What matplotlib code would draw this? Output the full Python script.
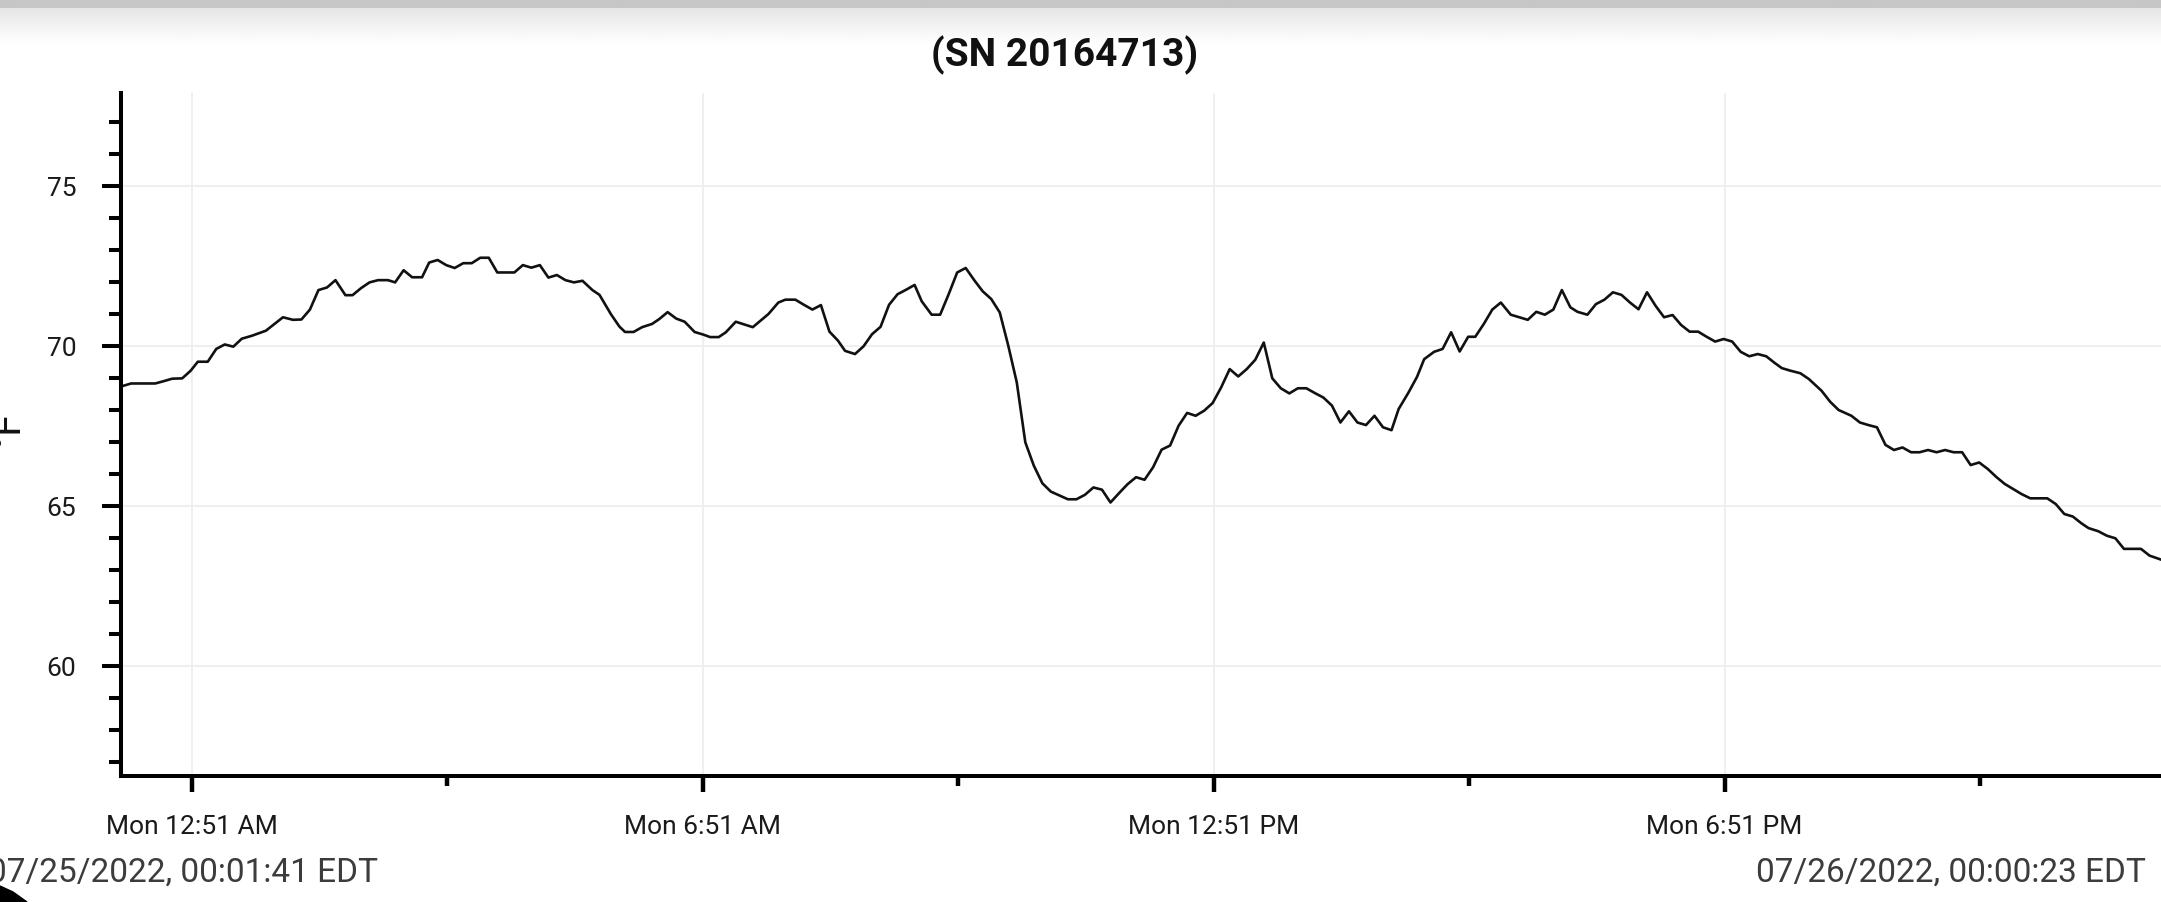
import matplotlib
matplotlib.use("Agg")
import matplotlib.pyplot as plt
from matplotlib.patches import Polygon
import numpy as np

plt.rcParams['font.family'] = ['Roboto', 'DejaVu Sans']

# logger readings, minutes after midnight on 07/25/2022 and deg F
minutes = [
    2, 3, 9, 26, 31, 38, 45, 51, 56, 63, 69, 75, 81, 87, 94, 104, 110, 116, 123, 129,
    135, 141, 147, 153, 160, 165, 171, 177, 183, 190, 195, 201, 207, 214, 219, 225, 231, 237,
    243, 249, 255, 261, 267, 279, 285, 291, 297, 303, 309, 315, 321, 327, 334, 339,
    347, 353, 357, 363, 369, 376, 381, 387, 393, 399, 406, 412, 417, 423, 428, 435, 447,
    458, 465, 470,
    477, 483, 489, 495, 501, 507, 512, 519, 525, 531, 537, 543, 549, 555, 561, 566,
    573, 579, 585, 591, 597, 603, 609, 615, 621, 627, 633, 639, 645, 651, 657, 662,
    669, 675, 681, 687, 693, 699, 705, 711,
    717, 723, 729, 735, 741, 747, 753, 759, 765, 771, 777, 783, 789, 795, 801, 807,
    813, 819, 825, 831, 837, 843, 849, 855, 861, 867, 873, 879, 885, 891, 897, 902,
    909, 915, 920, 927, 933, 939, 945, 951, 956,
    962, 968, 974, 981, 993, 999, 1005, 1011, 1017, 1023, 1028, 1035, 1041, 1047, 1053,
    1059, 1065, 1071, 1077, 1083, 1089, 1095, 1101, 1107, 1113, 1119, 1125, 1131, 1137,
    1143, 1149, 1155, 1161, 1167, 1172, 1178, 1185,
    1191, 1200, 1206, 1212, 1217, 1221, 1227, 1233, 1239, 1245, 1251, 1257, 1263, 1269,
    1275, 1281, 1287, 1293, 1299, 1305, 1311, 1317, 1323, 1329, 1335, 1341, 1347, 1359,
    1365, 1371, 1377, 1383, 1388, 1395, 1401, 1407, 1413, 1425, 1431, 1440,
]
temps = [
    68.80, 68.74, 68.82, 68.82, 68.88, 68.97, 68.98, 69.22, 69.50, 69.50, 69.90, 70.04,
    69.97, 70.22, 70.31, 70.47, 70.68, 70.89, 70.81, 70.82, 71.13, 71.74, 71.82, 72.05,
    71.58, 71.58, 71.80, 71.98, 72.05, 72.05, 71.98, 72.36, 72.14, 72.14, 72.60, 72.68,
    72.52, 72.43,
    72.58, 72.58, 72.75, 72.75, 72.29, 72.29, 72.52, 72.44, 72.52, 72.13, 72.21, 72.05,
    71.98, 72.03, 71.74, 71.59, 70.99, 70.60, 70.43, 70.43, 70.58, 70.68, 70.83, 71.05,
    70.85, 70.75, 70.43, 70.35, 70.27, 70.27, 70.42, 70.75, 70.58, 70.99, 71.35, 71.44,
    71.44, 71.28, 71.13, 71.27, 70.44, 70.16, 69.84, 69.74, 69.98, 70.36, 70.59, 71.28,
    71.61, 71.75, 71.90, 71.39, 70.97, 70.97, 71.61, 72.29, 72.43, 72.05, 71.70, 71.46,
    71.04, 70.00, 68.85, 66.98, 66.25, 65.70, 65.44, 65.34, 65.20, 65.20, 65.34, 65.57,
    65.50, 65.10, 65.39, 65.67,
    65.89, 65.81, 66.20, 66.75, 66.88, 67.50, 67.90, 67.81, 67.97, 68.21, 68.70, 69.27,
    69.04, 69.27, 69.56, 70.10, 68.98, 68.67, 68.51, 68.67, 68.67, 68.52, 68.38, 68.13,
    67.60, 67.95, 67.60, 67.52, 67.81, 67.45, 67.36, 68.02, 68.54, 69.03, 69.58, 69.81,
    69.90, 70.42, 69.82, 70.28, 70.28,
    70.68, 71.13, 71.35, 70.97, 70.81, 71.06, 70.97, 71.13, 71.74, 71.20, 71.06, 70.97,
    71.30, 71.44, 71.67, 71.59, 71.35, 71.14, 71.67, 71.25, 70.89, 70.96, 70.65, 70.44,
    70.44, 70.28, 70.13, 70.21, 70.13, 69.81, 69.67, 69.74, 69.67, 69.46, 69.30, 69.22,
    69.14,
    68.96, 68.59, 68.25, 67.99, 67.89, 67.81, 67.60, 67.52, 67.45, 66.90, 66.74, 66.82,
    66.67, 66.67, 66.74, 66.67, 66.74, 66.67, 66.67, 66.27, 66.35, 66.15, 65.90, 65.68,
    65.52, 65.36, 65.23, 65.23, 65.05, 64.74, 64.66, 64.45, 64.30, 64.20, 64.06, 63.98,
    63.65, 63.65, 63.44, 63.30,
]

major_ticks = [51.68, 411.68, 771.68, 1131.68]
minor_ticks = [231.68, 591.68, 951.68, 1311.68]
tick_labels = ["Mon 12:51 AM", "Mon 6:51 AM", "Mon 12:51 PM", "Mon 6:51 PM"]
t_start, t_end = 1.68, 1440.38
title = "(SN 20164713)"
y_label = "°F"
start_text = "07/25/2022, 00:01:41 EDT"
end_text = "07/26/2022, 00:00:23 EDT"

W_PX, H_PX = 2161, 903


def fx(px):
    return px / W_PX


def fy(py):
    return 1 - py / H_PX


fig = plt.figure(figsize=(W_PX / 100, H_PX / 100), dpi=100)

# top shadow of the app bar
band = fig.add_axes([0, fy(46), 1, 46 / H_PX])
shade = np.concatenate([np.full(9, 0.78), np.linspace(0.90, 1.0, 37)])
band.imshow(shade[:, None], cmap='gray', vmin=0, vmax=1, aspect='auto', interpolation='bilinear')
band.axis('off')

ax = fig.add_axes([fx(120.7), fy(777), fx(2162.8 - 120.7), (777 - 94) / H_PX])
ax.plot(minutes, temps, color='#111111', lw=1.9)

ax.set_xlim(t_start, t_end)
ax.set_ylim(56.55, 77.9)
ax.set_xticks(major_ticks)
ax.set_xticks(minor_ticks, minor=True)
ax.set_xticklabels(tick_labels)
ax.set_yticks([60, 65, 70, 75])
ax.set_yticks(np.arange(57, 78), minor=True)

for side in ['top', 'right']:
    ax.spines[side].set_visible(False)
for side in ['left', 'bottom']:
    ax.spines[side].set_linewidth(2.9)
    ax.spines[side].set_color('black')

ax.tick_params(axis='x', which='major', length=11.5, width=3.2, pad=16, labelsize=19, labelcolor='#1a1a1a')
ax.tick_params(axis='x', which='minor', length=7, width=3.2)
ax.tick_params(axis='y', which='major', length=13.5, width=2.9, pad=18.5, labelsize=19, labelcolor='#1a1a1a')
ax.tick_params(axis='y', which='minor', length=8.5, width=2.9)

ax.grid(True, which='major', color='#eeeeee', lw=1.3)
ax.set_axisbelow(True)

fig.text(fx(1065), fy(66.7), title, ha='center', va='baseline', fontsize=28, fontweight='bold', color='#111111')
# y axis label, mostly outside the screenshot
fig.text(fx(18), fy(429), y_label, rotation=90, rotation_mode='anchor', ha='center', va='baseline',
         fontsize=29, color='#111111')
fig.text(fx(-12), fy(882), start_text, ha='left', va='baseline', fontsize=24, color='#3c3c3c')
fig.text(fx(2146), fy(882), end_text, ha='right', va='baseline', fontsize=24, color='#3c3c3c')

# rounded screen corner at the bottom left
corner = [(0, 887), (13, 893), (20, 898), (27, 903), (0, 903)]
fig.add_artist(Polygon([(fx(x), fy(y)) for x, y in corner], closed=True,
                       transform=fig.transFigure, color='black', zorder=5))

fig.savefig('out.png', dpi=100)
